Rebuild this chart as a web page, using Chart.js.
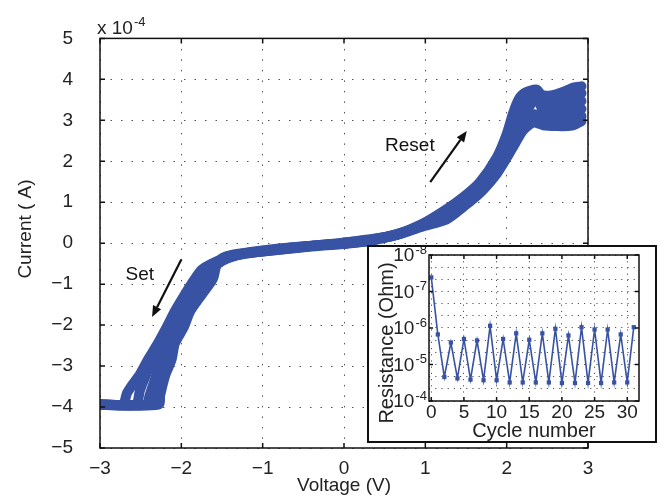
<!DOCTYPE html>
<html>
<head>
<meta charset="utf-8">
<script src="https://cdn.jsdelivr.net/npm/chart.js@4.4.0/dist/chart.umd.min.js"></script>
<style>
  html, body { margin: 0; padding: 0; background: #fff; }
  #wrap { position: relative; width: 665px; height: 498px; }
  #main { position: absolute; left: 0; top: 0; }
  #insetBox { position: absolute; left: 367px; top: 245px; width: 286px; height: 194px;
              border: 2px solid #111; background: #fff; }
  #inset { position: absolute; left: 0; top: 0; }
</style>
</head>
<body>
<div id="wrap">
  <canvas id="main" width="665" height="498"></canvas>
  <div id="insetBox"><canvas id="inset" width="286" height="194"></canvas></div>
</div>
<script>
// I-V sweeps: [voltage (V), current (x 1e-4 A)]
const resetSweep1 = [[0,0.02],[0.3,0.09],[0.65,0.22],[0.97,0.48],[1.26,0.83],[1.47,1.13],[1.67,1.49],[1.88,2.1],[2.0,2.66],[2.08,3.18],[2.15,3.52],[2.22,3.67],[2.37,3.75],[2.45,3.55],[2.55,3.6],[2.7,3.7],[2.82,3.8],[2.92,3.83]];
const resetSweep2 = [[0,0.01],[0.3,0.08],[0.65,0.21],[0.97,0.46],[1.26,0.78],[1.47,1.08],[1.67,1.44],[1.88,2.0],[2.0,2.5],[2.1,3.05],[2.2,3.5],[2.3,3.7],[2.4,3.62],[2.5,3.6],[2.65,3.62],[2.8,3.65],[2.92,3.66]];
const resetSweep3 = [[0,0.0],[0.3,0.07],[0.65,0.21],[0.97,0.45],[1.26,0.73],[1.47,1.02],[1.67,1.37],[1.88,1.9],[2.0,2.36],[2.1,2.9],[2.2,3.37],[2.3,3.62],[2.37,3.5],[2.5,3.4],[2.65,3.42],[2.8,3.45],[2.92,3.47]];
const resetSweep4 = [[0,-0.01],[0.3,0.06],[0.65,0.2],[0.97,0.43],[1.26,0.66],[1.47,0.95],[1.67,1.28],[1.88,1.78],[2.0,2.17],[2.1,2.6],[2.2,3.05],[2.3,3.4],[2.37,3.55],[2.45,3.25],[2.6,3.22],[2.8,3.25],[2.92,3.28]];
const resetReturn1 = [[2.92,3.1],[2.8,3.05],[2.6,3.04],[2.45,3.06],[2.35,3.15],[2.25,3.02],[2.12,2.6],[1.95,2.0],[1.75,1.46],[1.5,0.98],[1.2,0.6],[0.9,0.38],[0.6,0.2],[0.3,0.06],[0,-0.01]];
const resetReturn2 = [[2.92,2.98],[2.8,2.87],[2.6,2.86],[2.45,2.88],[2.33,2.95],[2.2,2.75],[2.08,2.35],[1.88,1.7],[1.67,1.22],[1.47,0.89],[1.26,0.58],[0.97,0.41],[0.65,0.21],[0.3,0.05],[0,-0.02]];
const setSweep1 = [[0,0.01],[-0.4,-0.06],[-0.85,-0.14],[-1.22,-0.24],[-1.42,-0.34],[-1.63,-0.5],[-1.75,-0.65],[-1.83,-0.86],[-1.96,-1.26],[-2.08,-1.66],[-2.18,-2.05],[-2.29,-2.45],[-2.41,-2.84],[-2.51,-3.2],[-2.6,-3.45],[-2.67,-3.67],[-2.72,-3.94],[-3,-3.94]];
const setSweep2 = [[0,0.0],[-0.4,-0.06],[-0.85,-0.15],[-1.22,-0.25],[-1.42,-0.35],[-1.6,-0.51],[-1.72,-0.67],[-1.8,-0.86],[-1.93,-1.26],[-2.05,-1.66],[-2.15,-2.05],[-2.24,-2.45],[-2.34,-2.84],[-2.44,-3.24],[-2.51,-3.6],[-2.56,-3.94],[-3,-3.94]];
const setSweep3 = [[0,0],[-0.4,-0.07],[-0.85,-0.16],[-1.22,-0.26],[-1.42,-0.36],[-1.58,-0.52],[-1.68,-0.68],[-1.76,-0.86],[-1.89,-1.26],[-2.02,-1.66],[-2.11,-2.05],[-2.19,-2.45],[-2.23,-2.84],[-2.31,-3.24],[-2.39,-3.71],[-2.43,-3.94],[-3,-3.94]];
const setSweep4 = [[0,-0.01],[-0.4,-0.07],[-0.9,-0.18],[-1.28,-0.27],[-1.45,-0.37],[-1.56,-0.52],[-1.64,-0.7],[-1.68,-0.86],[-1.82,-1.26],[-1.95,-1.66],[-2.04,-2.05],[-2.13,-2.45],[-2.17,-2.84],[-2.25,-3.24],[-2.32,-3.71],[-2.35,-3.94],[-3,-3.94]];
const setSweep5 = [[0,-0.02],[-0.4,-0.08],[-0.94,-0.19],[-1.34,-0.27],[-1.5,-0.37],[-1.57,-0.55],[-1.61,-0.86],[-1.75,-1.26],[-1.89,-1.66],[-1.97,-2.05],[-2.08,-2.45],[-2.12,-2.84],[-2.2,-3.24],[-2.26,-3.71],[-2.28,-3.94],[-3,-3.94]];

const voltageTicks = [-3, -2, -1, 0, 1, 2, 3];
const currentTicks = [-5, -4, -3, -2, -1, 0, 1, 2, 3, 4, 5];

// inset: resistance per cycle
const cycles = [0,1,2,3,4,5,6,7,8,9,10,11,12,13,14,15,16,17,18,19,20,21,22,23,24,25,26,27,28,29,30,31];
const resistance = [4.1e-8,1.5e-6,2.2e-5,2.5e-6,2.4e-5,2.0e-6,2.6e-5,2.2e-6,2.7e-5,8.7e-7,2.7e-5,2.0e-6,
                    3.1e-5,1.4e-6,3.1e-5,2.1e-6,3.1e-5,1.4e-6,3.1e-5,1.05e-6,3.2e-5,1.6e-6,3.2e-5,9.5e-7,
                    3.2e-5,1.1e-6,3.2e-5,1.1e-6,3.1e-5,1.5e-6,3.1e-5,9.5e-7];
const cycleTicks = [0, 5, 10, 15, 20, 25, 30];
const decades = [-8, -7, -6, -5, -4];

const notes = [
  { text: 'Reset', at: [0.81, 2.37], from: [1.06, 1.49], to: [1.51, 2.74] },
  { text: 'Set', at: [-2.51, -0.76], from: [-2.0, -0.40], to: [-2.36, -1.80] }
];

const blue = '#3953a4';
const fam = "'Liberation Sans', Arial, Helvetica, sans-serif";
const minus = v => String(v).replace('-', '\u2212');

function arrow(ctx, x1, y1, x2, y2) {
    const ang = Math.atan2(y2 - y1, x2 - x1);
    const head = 11, half = 4.5;
    const bx = x2 - head * Math.cos(ang), by = y2 - head * Math.sin(ang);
    ctx.beginPath();
    ctx.moveTo(x1, y1);
    ctx.lineTo(bx, by);
    ctx.stroke();
    ctx.beginPath();
    ctx.moveTo(x2, y2);
    ctx.lineTo(bx + half * Math.sin(ang), by - half * Math.cos(ang));
    ctx.lineTo(bx - half * Math.sin(ang), by + half * Math.cos(ang));
    ctx.closePath();
    ctx.fill();
}

// box, inward ticks, the notes and the y title for the main axes
const mainFrame = {
    id: 'mainFrame',
    afterDatasetsDraw(chart) {
        const { ctx, chartArea: a, scales: { x, y } } = chart;
        ctx.save();
        ctx.strokeStyle = '#111';
        ctx.lineWidth = 1.5;
        ctx.strokeRect(a.left, a.top, a.right - a.left, a.bottom - a.top);
        ctx.beginPath();
        voltageTicks.forEach(v => {
            const px = x.getPixelForValue(v);
            ctx.moveTo(px, a.bottom); ctx.lineTo(px, a.bottom - 5);
            ctx.moveTo(px, a.top); ctx.lineTo(px, a.top + 5);
        });
        currentTicks.forEach(v => {
            const py = y.getPixelForValue(v);
            ctx.moveTo(a.left, py); ctx.lineTo(a.left + 5, py);
            ctx.moveTo(a.right, py); ctx.lineTo(a.right - 5, py);
        });
        ctx.stroke();

        ctx.fillStyle = '#111';
        ctx.strokeStyle = '#111';
        ctx.lineWidth = 2.2;
        ctx.font = '19px ' + fam;
        ctx.textAlign = 'center';
        ctx.textBaseline = 'middle';
        notes.forEach(n => {
            ctx.fillText(n.text, x.getPixelForValue(n.at[0]), y.getPixelForValue(n.at[1]));
            arrow(ctx, x.getPixelForValue(n.from[0]), y.getPixelForValue(n.from[1]),
                  x.getPixelForValue(n.to[0]), y.getPixelForValue(n.to[1]));
        });

        ctx.fillStyle = '#222';
        ctx.save();
        ctx.translate(26, 229);
        ctx.rotate(-Math.PI / 2);
        ctx.fillText('Current ( A)', 0, 0);
        ctx.restore();

        // exponent of the current axis
        ctx.textAlign = 'left';
        ctx.textBaseline = 'alphabetic';
        ctx.font = '19px ' + fam;
        ctx.fillText('x 10', a.left - 3, a.top - 4);
        const w = ctx.measureText('x 10').width;
        ctx.font = '13px ' + fam;
        ctx.fillText('-4', a.left - 3 + w + 1, a.top - 12);
        ctx.restore();
    }
};

const sweeps = [resetSweep1, resetSweep2, resetSweep3, resetSweep4, resetReturn1, resetReturn2,
                setSweep1, setSweep2, setSweep3, setSweep4, setSweep5];

new Chart(document.getElementById('main'), {
    type: 'scatter',
    data: {
        datasets: sweeps.map(s => ({
            data: s.map(p => ({ x: p[0], y: p[1] })),
            showLine: true,
            borderColor: blue,
            backgroundColor: blue,
            borderWidth: 10,
            borderCapStyle: 'round',
            borderJoinStyle: 'round',
            tension: 0.25,
            pointRadius: 0,
            clip: 0
        }))
    },
    options: {
        responsive: false,
        animation: false,
        devicePixelRatio: 1,
        layout: { padding: { left: 0, right: 77, top: 28, bottom: 0 } },
        plugins: { legend: { display: false }, tooltip: { enabled: false } },
        scales: {
            x: {
                type: 'linear', min: -3, max: 3,
                afterBuildTicks: s => { s.ticks = voltageTicks.map(v => ({ value: v })); },
                ticks: { padding: 9, color: '#222', font: { family: fam, size: 19 }, callback: minus },
                grid: { color: '#555', lineWidth: 1, drawTicks: false },
                border: { display: false, dash: [1.5, 9] },
                title: { display: true, text: 'Voltage (V)', color: '#222', font: { family: fam, size: 19 }, padding: { top: 0, bottom: 1 } },
                afterFit: s => { s.height = 50; }
            },
            y: {
                type: 'linear', min: -5, max: 5,
                afterBuildTicks: s => { s.ticks = currentTicks.map(v => ({ value: v })); },
                ticks: { padding: 27, color: '#222', font: { family: fam, size: 19 }, callback: minus },
                grid: { color: '#555', lineWidth: 1, drawTicks: false },
                border: { display: false, dash: [1.5, 9] },
                afterFit: s => { s.width = 100; }
            }
        }
    },
    plugins: [mainFrame]
});

// inset frame, ticks, power-of-ten labels and y title
const insetFrame = {
    id: 'insetFrame',
    afterDatasetsDraw(chart) {
        const { ctx, chartArea: a, scales: { x, y } } = chart;
        ctx.save();
        ctx.strokeStyle = '#111';
        ctx.lineWidth = 1.5;
        ctx.strokeRect(a.left, a.top, a.right - a.left, a.bottom - a.top);
        ctx.beginPath();
        cycleTicks.forEach(v => {
            const px = x.getPixelForValue(v);
            ctx.moveTo(px, a.bottom); ctx.lineTo(px, a.bottom - 4);
            ctx.moveTo(px, a.top); ctx.lineTo(px, a.top + 4);
        });
        decades.forEach(e => {
            const py = y.getPixelForValue(Math.pow(10, e));
            ctx.moveTo(a.left, py); ctx.lineTo(a.left + 4, py);
            ctx.moveTo(a.right, py); ctx.lineTo(a.right - 4, py);
        });
        ctx.stroke();

        ctx.fillStyle = '#222';
        ctx.textBaseline = 'middle';
        decades.forEach(e => {
            const py = y.getPixelForValue(Math.pow(10, e));
            ctx.font = '13px ' + fam;
            const ew = ctx.measureText(String(e)).width;
            ctx.textAlign = 'left';
            ctx.fillText(String(e), a.left - 2 - ew, py - 5);
            ctx.font = '19px ' + fam;
            ctx.textAlign = 'right';
            ctx.fillText('10', a.left - 3 - ew, py + 1);
        });

        ctx.save();
        ctx.translate(18, 96);
        ctx.rotate(-Math.PI / 2);
        ctx.textAlign = 'center';
        ctx.font = '20px ' + fam;
        ctx.fillText('Resistance (Ohm)', 0, 0);
        ctx.restore();
        ctx.restore();
    }
};

new Chart(document.getElementById('inset'), {
    type: 'line',
    data: {
        datasets: [{
            data: cycles.map((c, i) => ({ x: c, y: resistance[i] })),
            borderColor: blue,
            backgroundColor: blue,
            borderWidth: 1.6,
            pointStyle: 'rect',
            pointRadius: 3,
            pointBorderWidth: 0,
            tension: 0
        }]
    },
    options: {
        responsive: false,
        animation: false,
        devicePixelRatio: 1,
        layout: { padding: { left: 0, right: 16, top: 8, bottom: 0 } },
        plugins: { legend: { display: false }, tooltip: { enabled: false } },
        scales: {
            x: {
                type: 'linear', min: -0.35, max: 31.8,
                afterBuildTicks: s => { s.ticks = cycleTicks.map(v => ({ value: v })); },
                ticks: { padding: 0, color: '#222', font: { family: fam, size: 19 } },
                grid: { color: '#555', lineWidth: 1, drawTicks: false },
                border: { display: false, dash: [1.2, 5] },
                title: { display: true, text: 'Cycle number', color: '#222', font: { family: fam, size: 20 }, padding: { top: 0, bottom: -2 } },
                afterFit: s => { s.height = 40; }
            },
            y: {
                type: 'logarithmic', min: 1e-8, max: 1e-4, reverse: true,
                afterBuildTicks: s => {
                    const t = [];
                    for (let e = -8; e <= -4.01; e += 1 / 3) t.push({ value: Math.pow(10, e) });
                    t.push({ value: 1e-4 });
                    s.ticks = t;
                },
                ticks: { display: false },
                grid: { color: '#555', lineWidth: 1, drawTicks: false },
                border: { display: false, dash: [1.2, 5] },
                afterFit: s => { s.width = 60; }
            }
        }
    },
    plugins: [insetFrame]
});
</script>
</body>
</html>
